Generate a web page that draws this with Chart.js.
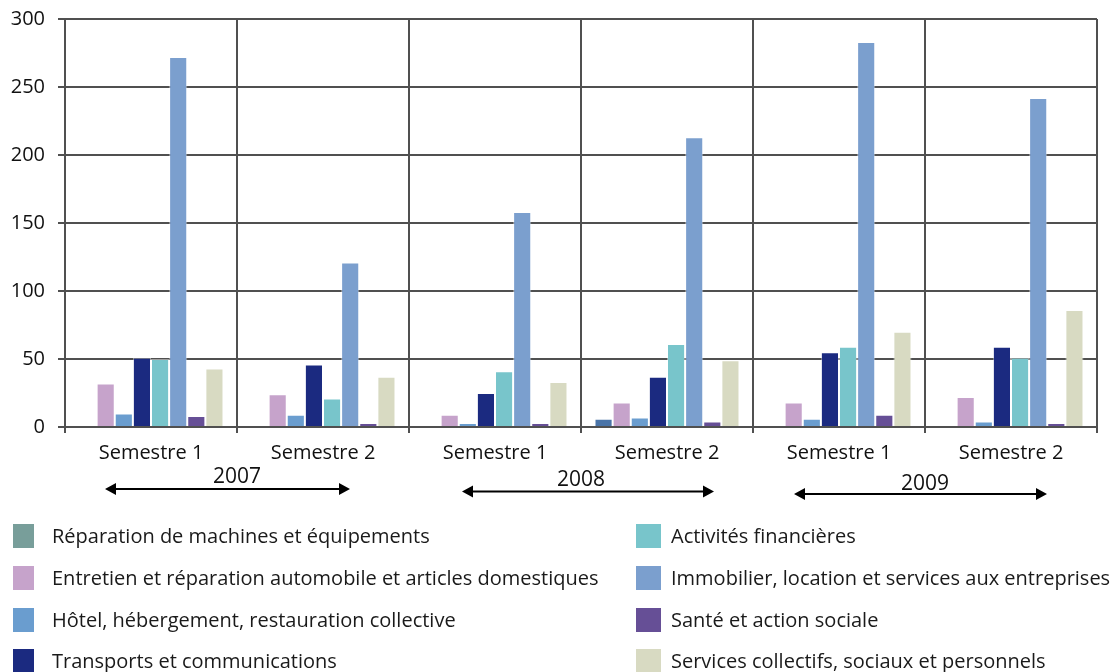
<!DOCTYPE html>
<html>
<head>
<meta charset="utf-8">
<script src="https://cdn.jsdelivr.net/npm/chart.js@4.4.1/dist/chart.umd.min.js"></script>
<style>
    html, body { margin: 0; padding: 0; background: #fff; }
    #wrap { position: relative; width: 1111px; height: 672px; overflow: hidden; }
    #chart { position: absolute; left: 0; top: 0; }
    .leg { position: absolute; font: 20px 'Open Sans', sans-serif; color: #1a1a1a; white-space: nowrap; line-height: 24px; }
    .leg i { position: absolute; top: 0; width: 22px; height: 24px; }
</style>
</head>
<body>
<div id="wrap">
    <canvas id="chart" width="1111" height="672"></canvas>
    <div id="legend"></div>
</div>
<script>
// categories
const SEMESTERS = ['Semestre 1', 'Semestre 2', 'Semestre 1', 'Semestre 2', 'Semestre 1', 'Semestre 2'];
const YEARS = ['2007', '2008', '2009'];

// series, in the order of the bars inside each group
const SECTORS = [
    'Réparation de machines et équipements',
    'Entretien et réparation automobile et articles domestiques',
    'Hôtel, hébergement, restauration collective',
    'Transports et communications',
    'Activités financières',
    'Immobilier, location et services aux entreprises',
    'Santé et action sociale',
    'Services collectifs, sociaux et personnels'
];

const reparationMachines = [0, 0, 0, 6, 0, 0];
const entretienAuto      = [32, 24, 9, 18, 18, 22];
const hotelRestauration  = [10, 9, 3, 7, 6, 4];
const transports         = [51, 46, 25, 37, 55, 59];
const financieres        = [50, 21, 41, 61, 59, 51];
const immobilier         = [272, 121, 158, 213, 283, 242];
const santeSocial        = [8, 3, 3, 4, 9, 3];
const servicesCollectifs = [43, 37, 33, 49, 70, 86];

const Y_TICKS = [0, 50, 100, 150, 200, 250, 300];

const SERIES = [reparationMachines, entretienAuto, hotelRestauration, transports,
                financieres, immobilier, santeSocial, servicesCollectifs];
const BAR_COLORS = ['#4a74a8', '#c6a3cb', '#6a9dcf', '#1b2a80', '#78c5cb', '#7b9fce', '#664f96', '#d8dac2'];
const SWATCH_COLORS = ['#789e9a', '#c6a3cb', '#6a9dcf', '#1b2a80', '#78c5cb', '#7b9fce', '#664f96', '#d8dac2'];

const GRID = '#505050';
const FONT = "'Open Sans', sans-serif";

// year labels + double arrows under each pair of semesters
const yearPlugin = {
    id: 'yearArrows',
    afterDraw(chart) {
        const { ctx, scales: { x } } = chart;
        const offs = [[-46, 27], [-33, 47], [-45, 36]];
        ctx.save();
        YEARS.forEach((yr, g) => {
            const a = x.getPixelForValue(g * 2);
            const b = x.getPixelForValue(g * 2 + 1);
            const yText = 477 + g * 3.5;
            const yArr = 489 + g * 2.5;

            ctx.fillStyle = '#111';
            ctx.font = '21px ' + FONT;
            ctx.textAlign = 'center';
            ctx.textBaseline = 'middle';
            ctx.fillText(yr, (a + b) / 2, yText);

            const x1 = a + offs[g][0], x2 = b + offs[g][1];
            ctx.strokeStyle = '#000';
            ctx.lineWidth = 2;
            ctx.beginPath();
            ctx.moveTo(x1 + 8, yArr); ctx.lineTo(x2 - 8, yArr);
            ctx.stroke();
            ctx.fillStyle = '#000';
            ctx.beginPath();
            ctx.moveTo(x1, yArr); ctx.lineTo(x1 + 11, yArr - 6); ctx.lineTo(x1 + 11, yArr + 6); ctx.closePath();
            ctx.moveTo(x2, yArr); ctx.lineTo(x2 - 11, yArr - 6); ctx.lineTo(x2 - 11, yArr + 6); ctx.closePath();
            ctx.fill();
        });
        ctx.restore();
    }
};

new Chart(document.getElementById('chart'), {
    type: 'bar',
    data: {
        labels: SEMESTERS,
        datasets: SECTORS.map((name, i) => ({
            label: name,
            data: SERIES[i],
            backgroundColor: BAR_COLORS[i],
            borderColor: 'rgba(255,255,255,0.45)',
            borderWidth: 1,
            categoryPercentage: 0.843,
            barPercentage: 1
        }))
    },
    plugins: [yearPlugin],
    options: {
        responsive: false,
        animation: false,
        layout: { padding: { left: 0, right: 14, top: 19, bottom: 0 } },
        plugins: { legend: { display: false }, tooltip: { enabled: false } },
        scales: {
            x: {
                grid: { offset: true, color: GRID, lineWidth: 2, tickLength: 6 },
                border: { display: true, color: GRID, width: 2 },
                ticks: { color: '#111', font: { family: FONT, size: 20 }, padding: 8, maxRotation: 0 },
                afterFit: s => { s.height = 245; }
            },
            y: {
                min: 0, max: 300,
                afterBuildTicks: s => { s.ticks = Y_TICKS.map(v => ({ value: v })); },
                grid: { color: GRID, lineWidth: 2, tickLength: 7 },
                border: { display: true, color: GRID, width: 2 },
                ticks: { color: '#111', font: { family: FONT, size: 20 }, padding: 13 },
                afterFit: s => { s.width = 65; s.paddingTop = 0; s.paddingBottom = 0; }
            }
        }
    }
});

// two-column legend, filled column by column
const legendEl = document.getElementById('legend');
SECTORS.forEach((name, i) => {
    const col = Math.floor(i / 4), row = i % 4;
    const d = document.createElement('div');
    d.className = 'leg';
    d.style.left = (col ? 636 : 13) + 'px';
    d.style.top = (524 + row * 41.8) + 'px';
    d.style.paddingLeft = (col ? 35 : 39) + 'px';
    d.innerHTML = '<i style="left:0;background:' + SWATCH_COLORS[i] + ';width:' + (col ? 25 : 21) + 'px"></i>';
    d.appendChild(document.createTextNode(name));
    legendEl.appendChild(d);
});
</script>
</body>
</html>
